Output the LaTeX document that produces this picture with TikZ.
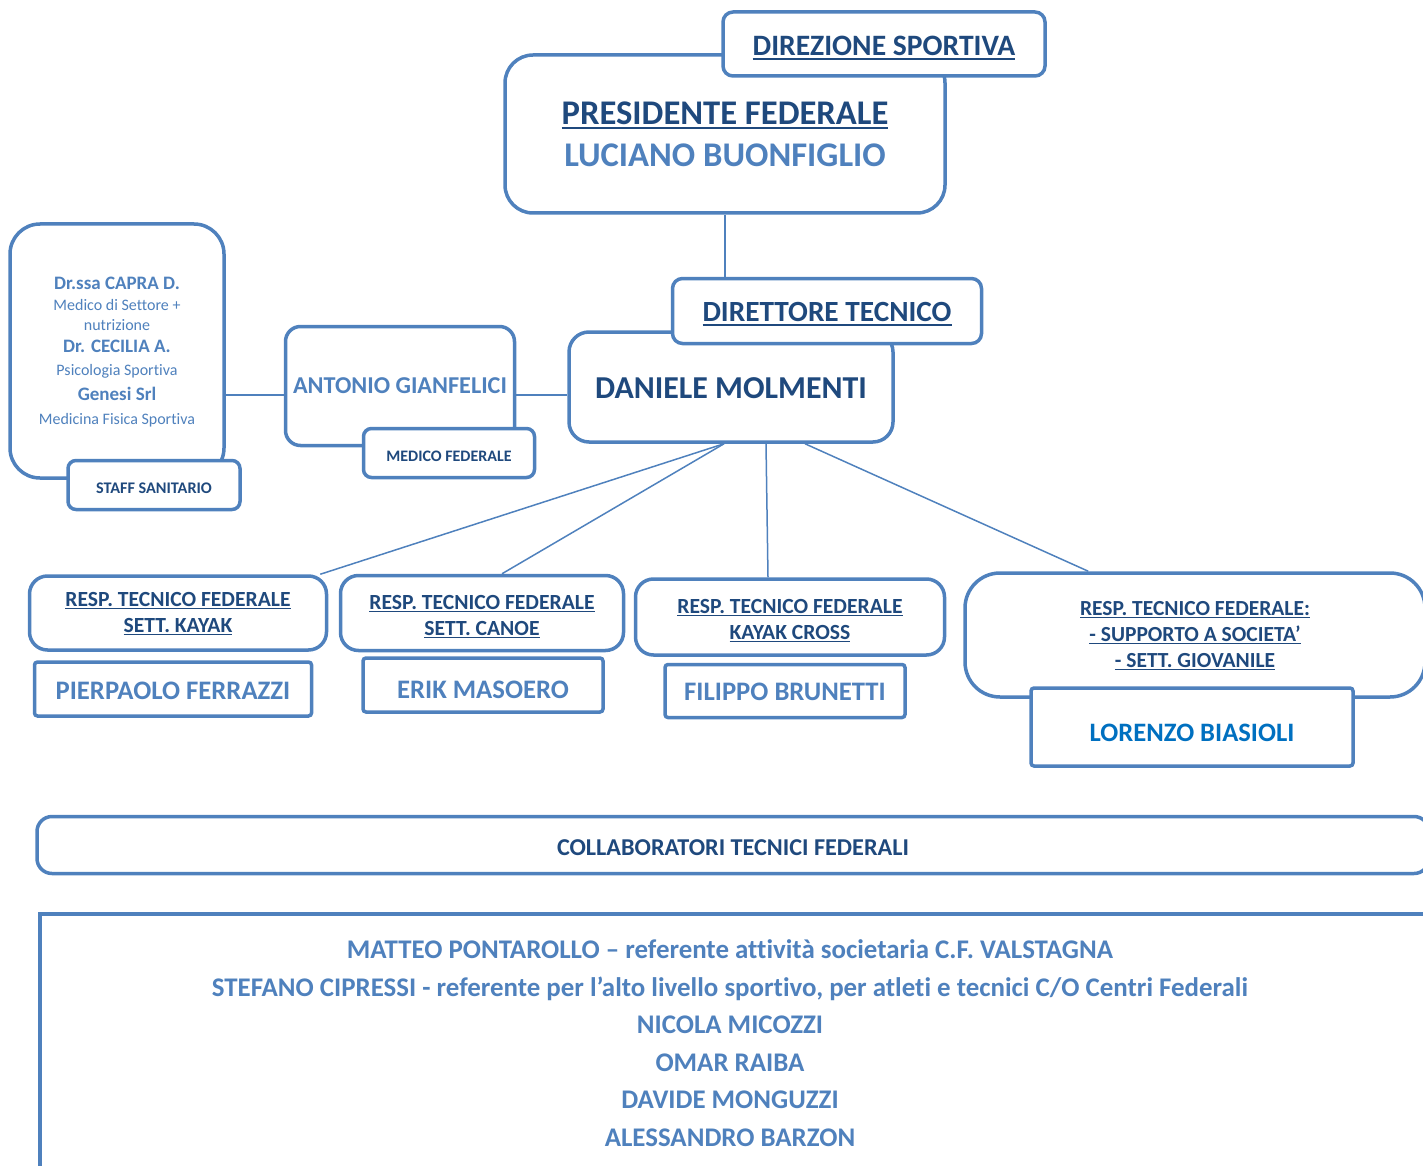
\documentclass[tikz,border=0pt]{standalone}
\usepackage{fontspec}
\setmainfont{Carlito}[Ligatures=CommonOff]
\usetikzlibrary{positioning}

\definecolor{frameblue}{HTML}{4F81BD}
\definecolor{inkblue}{HTML}{1F497D}
\definecolor{nameblue}{HTML}{4F81BD}
\definecolor{brightblue}{HTML}{0070C0}
\newcommand{\fsz}[2]{\fontsize{#1pt}{#2pt}\selectfont}
\newsavebox{\ulnbox}
\newcommand{\uln}[1]{\sbox{\ulnbox}{#1}\rlap{\rule[-0.15em]{\wd\ulnbox}{0.065em}}\usebox{\ulnbox}}
\newcommand{\dropby}[2]{\raisebox{-#1pt}[\height][\depth]{#2}}
\newcommand{\stack}[1]{\begin{tabular}{@{}c@{}}#1\end{tabular}}

\begin{document}
\begin{tikzpicture}[x=1pt,y=-1pt]
    \tikzset{
      box/.style={draw=frameblue, line width=3.5pt, fill=white,
        rounded corners=#1, inner sep=0pt, align=center},
      box/.default=12pt,
      dims/.style 2 args={minimum width=#1pt, minimum height=#2pt},
      link/.style={draw=frameblue, line width=1.5pt},
      roletext/.style={text=inkblue},
      persontext/.style={text=nameblue},
    }
    \useasboundingbox (0,0) rectangle (1423,1166);

    % top of the chart
    \node[box=28pt, dims={440}{158}, roletext, font=\bfseries\fsz{34.6}{42}] (pres) at (725,134)
      {\uln{PRESIDENTE FEDERALE}\\\textcolor{nameblue}{LUCIANO BUONFIGLIO}};
    \node[box=10pt, dims={322}{64}, roletext, font=\bfseries\fsz{29.6}{34}] (dir) at (884,44)
      {\dropby{4}{\uln{DIREZIONE SPORTIVA}}};
    \node[box=20pt, dims={324}{110}, roletext, font=\bfseries\fsz{31.9}{36}] (dan) at (731,387)
      {\dropby{1}{DANIELE MOLMENTI}};
    \node[box=10pt, dims={309}{65}, roletext, font=\bfseries\fsz{29.3}{34}] (dt) at (827,311)
      {\dropby{3}{\uln{DIRETTORE TECNICO}}};

    % medical staff
    \node[box=15pt, dims={229}{119}, persontext, font=\bfseries\fsz{24.2}{28}] (ant) at (400,386)
      {ANTONIO GIANFELICI};
    \node[box=8pt, dims={171}{49}, roletext, font=\bfseries\fsz{16}{19}] (medico) at (449,453)
      {\dropby{3}{MEDICO FEDERALE}};
    \node[box=30pt, dims={214}{254}, persontext, font=\fsz{16}{20.5}] (staff) at (117,351)
      {\dropby{2}{\stack{{\bfseries\fsz{19}{20.5}Dr.ssa CAPRA D.}\\Medico di Settore +\\nutrizione\\[1.5pt]
       {\bfseries\fsz{19}{20.5}Dr. CECILIA A.}\\[2pt]Psicologia Sportiva\\[5pt]
       {\bfseries\fsz{19}{20.5}Genesi Srl}\\[3pt]Medicina Fisica Sportiva}}};
    \node[box=8pt, dims={172}{49}, roletext, font=\bfseries\fsz{16.2}{19}] (sanit) at (154,485)
      {\dropby{3}{STAFF SANITARIO}};

    % sectors
    \node[box=18pt, dims={297}{74}, roletext, font=\bfseries\fsz{21.6}{26}] (kayak) at (178,613)
      {\dropby{1}{\stack{\uln{RESP. TECNICO FEDERALE}\\\uln{SETT. KAYAK}}}};
    \node[box=3pt, dims={277}{54}, persontext, font=\bfseries\fsz{26.7}{30}] (ferrazzi) at (173,689)
      {\dropby{2}{PIERPAOLO FERRAZZI}};
    \node[box=18pt, dims={283}{75}, roletext, font=\bfseries\fsz{21.6}{26}] (canoe) at (482,613)
      {\dropby{4}{\stack{\uln{RESP. TECNICO FEDERALE}\\\uln{SETT. CANOE}}}};
    \node[box=3pt, dims={240}{54}, persontext, font=\bfseries\fsz{26.7}{30}] (masoero) at (483,685)
      {\dropby{5}{ERIK MASOERO}};
    \node[box=18pt, dims={309}{76}, roletext, font=\bfseries\fsz{21.6}{26}] (cross) at (790,617)
      {\dropby{4}{\stack{\uln{RESP. TECNICO FEDERALE}\\\uln{KAYAK CROSS}}}};
    \node[box=3pt, dims={240}{53}, persontext, font=\bfseries\fsz{26.7}{30}] (brunetti) at (785,691)
      {\dropby{1}{FILIPPO BRUNETTI}};
    \node[box=35pt, dims={460}{124}, roletext, font=\bfseries\fsz{21.5}{26}] (giov) at (1195,635)
      {\dropby{1}{\stack{\uln{RESP. TECNICO FEDERALE:}\\\uln{- SUPPORTO A SOCIETA’}\\\uln{- SETT. GIOVANILE}}}};
    \node[box=3pt, dims={322}{78}, text=brightblue, font=\bfseries\fsz{26.6}{30}] (biasioli) at (1192,727)
      {\dropby{6}{LORENZO BIASIOLI}};

    % collaborators
    \node[box=15pt, dims={1392}{57}, roletext, font=\bfseries\fsz{24.2}{28}] (collab) at (733,845)
      {\dropby{3}{COLLABORATORI TECNICI FEDERALI}};
    \node[box=0pt, dims={1400}{266}] (panel) at (740,1047) {};
    \node[persontext, align=center, font=\bfseries\fsz{26.9}{37.5}] (list) at (730,1043)
      {MATTEO PONTAROLLO – referente attività societaria C.F. VALSTAGNA\\
       STEFANO CIPRESSI - referente per l’alto livello sportivo, per atleti e tecnici C/O Centri Federali\\
       NICOLA MICOZZI\\OMAR RAIBA\\DAVIDE MONGUZZI\\ALESSANDRO BARZON};

    \draw[link] (pres.south) -- (pres.south |- dt.north);
    \draw[link] ([yshift=-9pt]ant.west) -- ([yshift=-9pt]ant.west -| staff.east);
    \draw[link] ([yshift=-9pt]ant.east) -- ([yshift=-9pt]ant.east -| dan.west);
    \draw[link] ([xshift=-7pt]dan.south) -- ([xshift=-8pt]kayak.north east);
    \draw[link] ([xshift=-7pt]dan.south) -- ([xshift=20pt]canoe.north);
    \draw[link] ([xshift=35pt]dan.south) -- ([xshift=-22pt]cross.north);
    \draw[link] ([xshift=74pt]dan.south) -- ([xshift=125pt]giov.north west);
\end{tikzpicture}
\end{document}
